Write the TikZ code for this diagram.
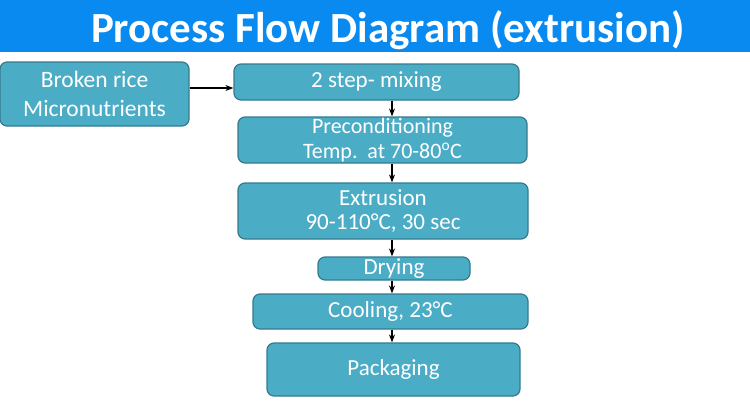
\documentclass[tikz,border=0pt]{standalone}
\usepackage{fontspec}
\setmainfont{Carlito}
\usetikzlibrary{arrows.meta, positioning}
\definecolor{titleblue}{RGB}{8,138,240}
\definecolor{boxteal}{RGB}{75,172,198}
\definecolor{boxedge}{RGB}{52,122,142}
\tikzset{
  stepbox/.style={rectangle, draw=boxedge, fill=boxteal, text=white, align=center, rounded corners=7pt, line width=1.2pt, font=\fontsize{23}{24}\selectfont, inner sep=0pt},
  arrow/.style={-Stealth, line width=1.1pt, color=black}
}

\begin{document}
\begin{tikzpicture}[x=1pt, y=-1pt]
  \useasboundingbox (0,0) rectangle (750,400);
  % Title bar
  \fill[titleblue] (0,0) rectangle (750,52);
  \node[text=white, font=\fontsize{43}{46}\selectfont\bfseries] (title) at (388,30) {Process Flow Diagram (extrusion)};

  % Raw materials
  \node[stepbox, minimum width=189pt, minimum height=64pt, font=\fontsize{23.5}{29}\selectfont] (raw) at (94.5,94) {Broken rice\\Micronutrients};

  % Process steps
  \node[stepbox, minimum width=285pt, minimum height=36pt] (mix) at (376.5,82) {2 step- mixing};
  \node[stepbox, minimum width=289pt, minimum height=46pt, font=\fontsize{22}{25}\selectfont] (precond) at (382.5,140) {Preconditioning\\Temp.\ \ at 70-80\textsuperscript{o}C};
  \node[stepbox, minimum width=290pt, minimum height=56pt] (extr) at (383,211) {Extrusion\\90-110°C, 30 sec};
  \node[stepbox, minimum width=152pt, minimum height=23pt] (dry) at (394,268.5) {Drying};
  \node[stepbox, minimum width=275pt, minimum height=35pt] (cool) at (390.5,311.5) {Cooling, 23°C};
  \node[stepbox, minimum width=253pt, minimum height=53pt] (pack) at (393.5,369.5) {Packaging};

  % Connectors
  \coordinate (feed) at (0,88);
  \coordinate (spine) at (392,0);
  \draw[arrow] (raw.east |- feed) -- (mix.west |- feed);
  \draw[arrow] (mix.south -| spine) -- (precond.north -| spine);
  \draw[arrow] (precond.south -| spine) -- (extr.north -| spine);
  \draw[arrow] (extr.south -| spine) -- (dry.north -| spine);
  \draw[arrow] (dry.south -| spine) -- (cool.north -| spine);
  \draw[arrow] (cool.south -| spine) -- (pack.north -| spine);
\end{tikzpicture}
\end{document}
